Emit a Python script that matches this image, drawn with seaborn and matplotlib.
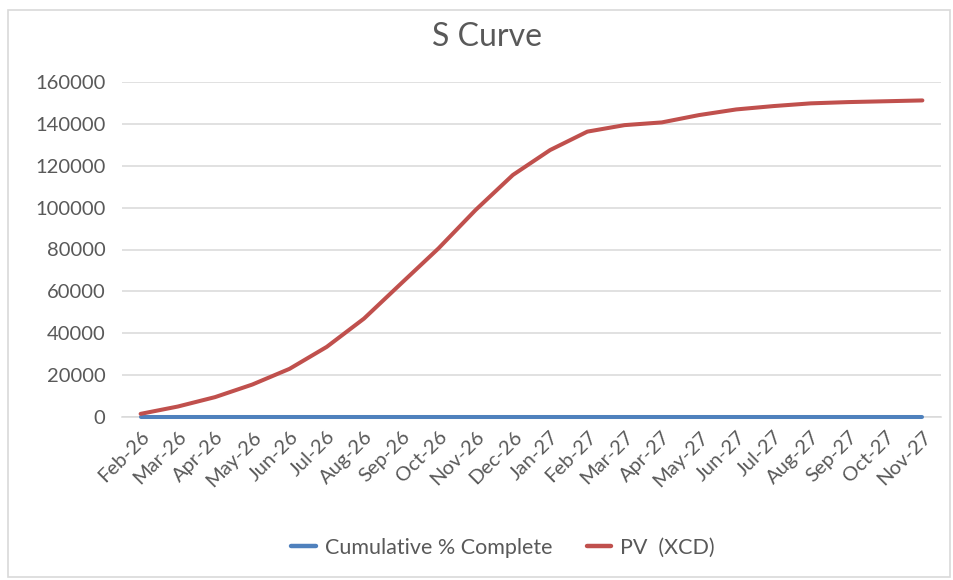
import numpy as np
import pandas as pd
import matplotlib
matplotlib.use("Agg")
import matplotlib.pyplot as plt
from matplotlib.patches import Rectangle
import seaborn as sns

# Monthly reporting periods
months = ["Feb-26", "Mar-26", "Apr-26", "May-26", "Jun-26", "Jul-26", "Aug-26",
          "Sep-26", "Oct-26", "Nov-26", "Dec-26", "Jan-27", "Feb-27", "Mar-27",
          "Apr-27", "May-27", "Jun-27", "Jul-27", "Aug-27", "Sep-27", "Oct-27",
          "Nov-27"]

# Cumulative planned value (XCD)
pv_xcd = [1500, 5000, 9500, 15500, 23000, 33500, 47000, 63800, 80500, 98900,
          115600, 127500, 136300, 139400, 140700, 144200, 146900, 148500,
          149800, 150400, 150800, 151200]

# Cumulative % complete (fraction)
cumulative_pct = [0] * len(months)

series_names = ["Cumulative % Complete", "PV  (XCD)"]
y_ticks = [0, 20000, 40000, 60000, 80000, 100000, 120000, 140000, 160000]

df = pd.DataFrame({
    "period": np.tile(np.arange(len(months)), 2),
    "value": cumulative_pct + pv_xcd,
    "series": [series_names[0]] * len(months) + [series_names[1]] * len(months),
})

sns.set_theme(style="white")
plt.rcParams["font.family"] = ["Lato", "DejaVu Sans"]

text_col = "#595959"
grid_col = "#D9D9D9"

fig = plt.figure(figsize=(9.54, 5.8), dpi=100)
W, H = 954, 580
ax = fig.add_axes([122 / W, 1 - 417 / H, (941 - 122) / W, (417 - 82) / H])

sns.lineplot(data=df, x="period", y="value", hue="series",
             palette={series_names[0]: "#4F81BD", series_names[1]: "#C0504D"},
             linewidth=2.9, ax=ax, legend=False, sort=False,
             clip_on=False, zorder=3)

ax.set_xlim(-0.5, len(months) - 0.5)
ax.set_ylim(0, 160000)
ax.set_yticks(y_ticks)
ax.set_yticklabels([str(v) for v in y_ticks], fontsize=14.5, color=text_col)
ax.set_xticks(np.arange(len(months)))
ax.set_xticklabels(months, rotation=45, ha="right", rotation_mode="anchor",
                   fontsize=14.5, color=text_col)
ax.tick_params(axis="both", length=0)
ax.tick_params(axis="y", pad=12)
ax.tick_params(axis="x", pad=8)
ax.set_xlabel("")
ax.set_ylabel("")
ax.yaxis.grid(True, color=grid_col, linewidth=1.1)
ax.set_axisbelow(True)
for side in ["top", "right", "left"]:
    ax.spines[side].set_visible(False)
ax.spines["bottom"].set_color(grid_col)
ax.spines["bottom"].set_linewidth(1.1)
ax.spines["bottom"].set_zorder(1)

fig.text(487 / W, 1 - 37 / H, "S Curve", ha="center", va="center",
         fontsize=23, color=text_col)

handles = [plt.Line2D([], [], color="#4F81BD", linewidth=3.2),
           plt.Line2D([], [], color="#C0504D", linewidth=3.2)]
fig.legend(handles, series_names, loc="center", bbox_to_anchor=(503 / W, 1 - 548 / H),
           ncol=2, frameon=False, fontsize=15.5, labelcolor=text_col,
           handlelength=1.15, handletextpad=0.4, columnspacing=1.6)

fig.patches.append(Rectangle((8 / W, 1 - 577 / H), (950 - 8) / W, (577 - 10) / H,
                             transform=fig.transFigure, fill=False,
                             edgecolor=grid_col, linewidth=1.2))

fig.savefig("out.png", dpi=100, facecolor="white")
